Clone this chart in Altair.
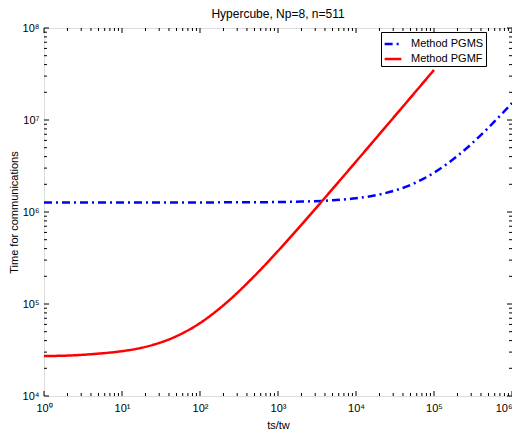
import altair as alt
import pandas as pd

# ---- data ----
x_vals = [1, 2, 5, 10, 20, 50, 100, 200, 500, 1000, 2000, 5000,
          1e4, 2e4, 5e4, 1e5, 2e5, 5e5, 1e6]
pgms = [1270000, 1270000, 1270000, 1270000, 1270000, 1271000, 1271000, 1273000,
        1277000, 1284000, 1298000, 1340000, 1410000, 1550000, 1970000, 2670000,
        4070000, 8270000, 15300000]
pgmf_x = [1, 2, 5, 10, 20, 50, 100, 200, 500, 1000, 2000, 5000,
          1e4, 2e4, 5e4, 1e5]
pgmf = [27200, 27500, 28900, 30700, 34200, 44700, 62000, 97000, 202000,
        377000, 727000, 1780000, 3530000, 7030000, 17500000, 35000000]
series_names = ["Method PGMS", "Method PGMF"]
x_major = [1, 10, 100, 1000, 1e4, 1e5, 1e6]
y_major = [1e4, 1e5, 1e6, 1e7, 1e8]
title_text = "Hypercube, Np=8, n=511"
x_title = "ts/tw"
y_title = "Time for communications"

x_minor = [m * d for d in x_major[:-1] for m in range(2, 10)]
y_minor = [m * d for d in y_major[:-1] for m in range(2, 10)]

W, H = 468, 368
FONT = "Liberation Sans"

rows = [{"x": a, "y": b, "s": series_names[0]} for a, b in zip(x_vals, pgms)]
rows += [{"x": a, "y": b, "s": series_names[1]} for a, b in zip(pgmf_x, pgmf)]
df = pd.DataFrame(rows)

xs = alt.Scale(type="log", domain=[1, 1e6], nice=False)
ys = alt.Scale(type="log", domain=[1e4, 1e8], nice=False)

sup = "['\u2070','\u00b9','\u00b2','\u00b3','\u2074','\u2075','\u2076','\u2077','\u2078']"
lab = "'10' + " + sup + "[round(log(datum.value)/LN10)]"

x_axis = alt.Axis(
    values=x_major, labelExpr=lab, domain=False, ticks=False, grid=False,
    title=x_title, labelFont=FONT, labelFontSize=11, labelColor="black",
    titleFont=FONT, titleFontSize=11, titleFontWeight="normal",
    titleColor="black", labelPadding=6, titlePadding=6, labelFlush=False,
    labelAlign={"condition": {"test": "datum.value >= 1000000",
                              "value": "right"}, "value": "center"})
y_axis = alt.Axis(
    values=y_major, labelExpr=lab, domain=False, ticks=False, grid=False,
    title=y_title, labelFont=FONT, labelFontSize=11, labelColor="black",
    titleFont=FONT, titleFontSize=11, titleFontWeight="normal",
    titleColor="black", labelPadding=5, titlePadding=3, labelFlush=False)

lines = alt.Chart(df).mark_line(strokeWidth=2.5, clip=True,
                                interpolate="monotone").encode(
    x=alt.X("x:Q", scale=xs, axis=x_axis),
    y=alt.Y("y:Q", scale=ys, axis=y_axis),
    color=alt.Color("s:N", scale=alt.Scale(domain=series_names,
                                           range=["#0000ff", "#ff0000"]),
                    legend=alt.Legend(
                        title=None, orient="none", legendX=337, legendY=4,
                        symbolType="stroke", symbolSize=280,
                        symbolStrokeWidth=2.5, labelFont=FONT,
                        labelFontSize=11, labelColor="black",
                        strokeColor="black", fillColor="white",
                        padding=2, rowPadding=0, labelOffset=8,
                        cornerRadius=0)),
    strokeDash=alt.StrokeDash("s:N", scale=alt.Scale(
        domain=series_names, range=[[8, 4, 2, 4], [1, 0]]), legend=None),
    order=alt.Order("x:Q"),
)


def tick_layer(vals, axis, side, length):
    d = pd.DataFrame({"v": vals})
    c = alt.Chart(d).mark_rule(color="black", strokeWidth=1)
    if axis == "x":
        y0 = H if side == "b" else 0
        y1 = H - length if side == "b" else length
        return c.encode(x=alt.X("v:Q", scale=xs, axis=x_axis),
                        y=alt.value(y0), y2=alt.value(y1))
    else:
        x0 = 0 if side == "l" else W
        x1 = length if side == "l" else W - length
        return c.encode(y=alt.Y("v:Q", scale=ys, axis=y_axis),
                        x=alt.value(x0), x2=alt.value(x1))


ticks = [
    tick_layer(x_major, "x", "b", 5), tick_layer(x_major, "x", "t", 5),
    tick_layer(x_minor, "x", "b", 3), tick_layer(x_minor, "x", "t", 3),
    tick_layer(y_major, "y", "l", 5), tick_layer(y_major, "y", "r", 5),
    tick_layer(y_minor, "y", "l", 3), tick_layer(y_minor, "y", "r", 3),
]

chart = alt.layer(lines, *ticks).properties(
    width=W, height=H,
    title=alt.Title(title_text, font=FONT, fontSize=12, fontWeight="normal",
                    color="black", offset=1),
    autosize=alt.AutoSizeParams(type="none"),
    padding={"left": 36, "top": 20, "right": 0, "bottom": 36},
).configure_view(stroke="black", strokeWidth=2).configure(background="white")

chart.save("out.html", embed_options={"renderer": "svg", "actions": False})
